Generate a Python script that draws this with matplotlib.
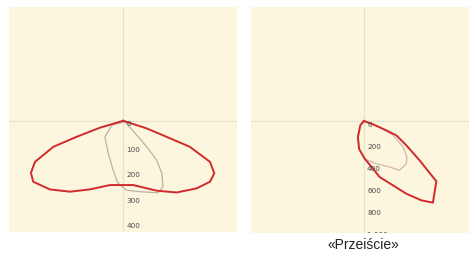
import matplotlib
matplotlib.use("Agg")
import matplotlib.pyplot as plt

# ── Photometric curves (cd/klm), cartesian from polar plots ────────────────
# Left: wide distribution
left_red_x = [0, 92, 170, 261, 340, 357, 340, 288, 209, 131, 39, -52, -131,
              -209, -288, -353, -362, -346, -274, -183, -91, 0]
left_red_y = [0, -30, -63, -102, -161, -206, -239, -265, -281, -274, -252,
              -252, -269, -278, -269, -239, -204, -161, -102, -63, -27, 0]
left_grey_x = [7, 46, 92, 131, 151, 156, 136, 65, 13, -21, -40, -59, -72,
               -45, 7]
left_grey_y = [-4, -48, -102, -154, -205, -259, -282, -278, -272, -244, -193,
               -127, -63, -17, -4]
left_ticks = [0, 100, 200, 300, 400]
left_tick_labels = ["0", "100", "200", "300", "400"]

# Right: "Przejście" (crossing) asymmetric distribution
right_red_x = [0, 82, 203, 294, 385, 506, 658, 627, 521, 385, 264, 142, 82,
               6, -45, -55, -33, 0]
right_red_y = [0, -30, -85, -130, -221, -358, -548, -742, -721, -661, -585,
               -509, -433, -342, -252, -145, -39, 0]
right_grey_x = [0, 142, 264, 355, 391, 385, 324, 233, 112, 21, -39, -55, -33, 0]
right_grey_y = [0, -55, -130, -236, -327, -388, -448, -418, -388, -352, -267,
                -145, -39, 0]
right_ticks = [0, 200, 400, 600, 800, 1000]
right_tick_labels = ["0", "200", "400", "600", "800", "1 000"]

caption = "«Przeiście»"

BG = "#FCF6DF"
AXIS_COL = "#E6E1C9"
RED = "#D02A2C"
GREY = "#BCB1A4"
GREY_R = "#D6B6A8"

fig = plt.figure(figsize=(4.69, 2.58), dpi=100)

panels = [
    ([9 / 469, 26 / 258, 228 / 469, 225 / 258], (-448, 446), (-436, 446),
     left_red_x, left_red_y, left_grey_x, left_grey_y, GREY,
     left_ticks, left_tick_labels),
    ([251 / 469, 25 / 258, 218 / 469, 226 / 258], (-1027, 955), (-1018, 1036),
     right_red_x, right_red_y, right_grey_x, right_grey_y, GREY_R,
     right_ticks, right_tick_labels),
]

for (rect, xl, yl, rx, ry, gx, gy, gcol, ticks, labels) in panels:
    ax = fig.add_axes(rect)
    ax.set_facecolor(BG)
    ax.set_xlim(*xl)
    ax.set_ylim(*yl)
    for s in ax.spines.values():
        s.set_visible(False)
    ax.set_xticks([])
    ax.set_yticks([])
    ax.axhline(0, color=AXIS_COL, lw=0.8, zorder=1)
    ax.axvline(0, color=AXIS_COL, lw=0.8, zorder=1)
    ax.plot(gx, gy, color=gcol, lw=0.9, zorder=2)
    ax.plot(rx, ry, color=RED, lw=1.4, zorder=3, solid_joinstyle="round")
    for t, lab in zip(ticks, labels):
        txt = ax.annotate(lab, xy=(0, -t), xytext=(2.2, -2.6),
                          textcoords="offset points", fontsize=5.2,
                          color="#4A4A4A", ha="left", va="center",
                          annotation_clip=False)
        txt.set_clip_on(True)
        txt.set_clip_box(ax.bbox)

fig.text(363 / 469, 1 - 245 / 258, caption, ha="center", va="center",
         fontsize=10, family="Liberation Sans", color="#222222")

fig.savefig("out.png", dpi=100, facecolor="white")
